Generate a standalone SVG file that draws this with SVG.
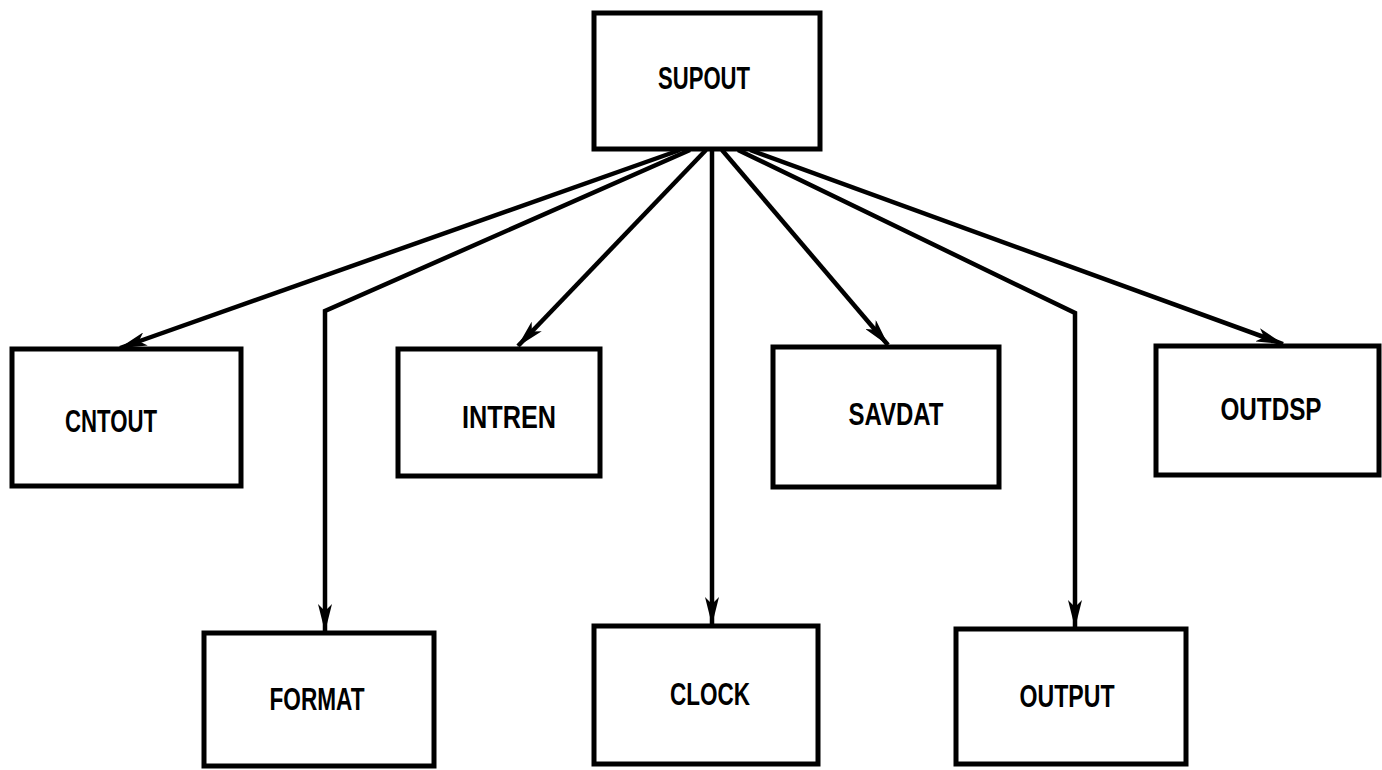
<svg xmlns="http://www.w3.org/2000/svg" width="1382" height="770" viewBox="0 0 1382 770">
  <style>
    .box { fill: #ffffff; stroke: #000000; stroke-width: 5; }
    .lbl { font-family: "Liberation Sans", Arial, sans-serif; font-weight: bold; font-size: 31px; fill: #000000; text-anchor: middle; }
    .edge { fill: none; stroke: #000000; stroke-width: 4.5; stroke-linejoin: miter; }
  </style>
  <defs>
    <marker id="arrow" viewBox="0 0 28 14" refX="27" refY="7" markerWidth="28" markerHeight="14" markerUnits="userSpaceOnUse" orient="auto">
      <path d="M0,0 L28,7 L0,14 L7,7 Z" fill="#000000"/>
    </marker>
  </defs>
  <rect width="1382" height="770" fill="#ffffff"/>

  <!-- call tree connectors fanning out of SUPOUT -->
  <g id="connectors">
    <line class="edge" x1="680" y1="150" x2="120" y2="348" marker-end="url(#arrow)"/>
    <polyline class="edge" points="690,150 325,311 325,631" marker-end="url(#arrow)"/>
    <line class="edge" x1="706" y1="150" x2="518" y2="346" marker-end="url(#arrow)"/>
    <line class="edge" x1="712" y1="150" x2="712" y2="624" marker-end="url(#arrow)"/>
    <line class="edge" x1="722" y1="150" x2="888" y2="345" marker-end="url(#arrow)"/>
    <polyline class="edge" points="738,150 1075,313 1075,627" marker-end="url(#arrow)"/>
    <line class="edge" x1="750" y1="150" x2="1283" y2="344" marker-end="url(#arrow)"/>
  </g>

  <g id="SUPOUT">
    <rect class="box" x="594" y="13" width="226" height="136"/>
    <text class="lbl" x="704" y="89" textLength="92" lengthAdjust="spacingAndGlyphs">SUPOUT</text>
  </g>
  <g id="CNTOUT">
    <rect class="box" x="12" y="349" width="229" height="137"/>
    <text class="lbl" x="111" y="432" textLength="92" lengthAdjust="spacingAndGlyphs">CNTOUT</text>
  </g>
  <g id="INTREN">
    <rect class="box" x="398" y="349" width="202" height="127"/>
    <text class="lbl" x="509" y="428" textLength="94" lengthAdjust="spacingAndGlyphs">INTREN</text>
  </g>
  <g id="SAVDAT">
    <rect class="box" x="773" y="347" width="226" height="140"/>
    <text class="lbl" x="896" y="425" textLength="95" lengthAdjust="spacingAndGlyphs">SAVDAT</text>
  </g>
  <g id="OUTDSP">
    <rect class="box" x="1156" y="346" width="223" height="129"/>
    <text class="lbl" x="1271" y="420" textLength="101" lengthAdjust="spacingAndGlyphs">OUTDSP</text>
  </g>
  <g id="FORMAT">
    <rect class="box" x="204" y="633" width="230" height="133"/>
    <text class="lbl" x="317" y="710" textLength="95" lengthAdjust="spacingAndGlyphs">FORMAT</text>
  </g>
  <g id="CLOCK">
    <rect class="box" x="594" y="626" width="224" height="138"/>
    <text class="lbl" x="710" y="705" textLength="80" lengthAdjust="spacingAndGlyphs">CLOCK</text>
  </g>
  <g id="OUTPUT">
    <rect class="box" x="956" y="629" width="230" height="135"/>
    <text class="lbl" x="1067" y="707" textLength="95" lengthAdjust="spacingAndGlyphs">OUTPUT</text>
  </g>
</svg>
